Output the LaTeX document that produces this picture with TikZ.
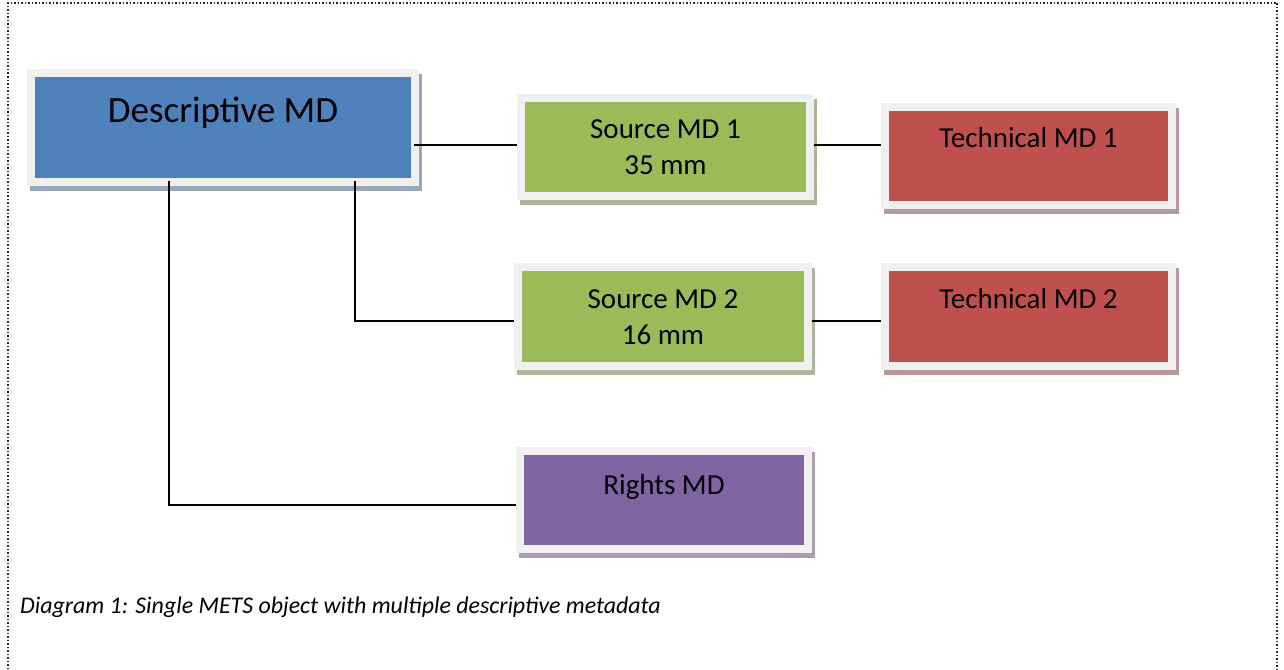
\documentclass[tikz,border=0pt]{standalone}
\usepackage{fontspec}
\setmainfont{Carlito}
\usetikzlibrary{shadows,calc}
\definecolor{mdblue}{HTML}{4F81BD}
\definecolor{mdgreen}{HTML}{9BBB59}
\definecolor{mdred}{HTML}{C0504D}
\definecolor{mdpurple}{HTML}{8064A2}
\definecolor{mdframe}{HTML}{F0F0F0}
\tikzset{
  mdbox/.style={rectangle, inner sep=0pt, fill=mdframe,
    drop shadow={shadow xshift=3pt, shadow yshift=-5pt, opacity=1, fill=#1!40!gray!70!white},
    path picture={\fill[#1] ([shift={(8pt,8pt)}]path picture bounding box.south west)
      rectangle ([shift={(-8pt,-8pt)}]path picture bounding box.north east);}},
  lbl/.style={anchor=north, inner sep=0pt, align=center, font=\fontsize{29}{36.5}\selectfont},
  biglbl/.style={anchor=north, inner sep=0pt, align=center, font=\fontsize{37}{45}\selectfont},
  conn/.style={draw=black, line width=1.8pt},
  frameline/.style={draw=black!85, line width=1.5pt, dash pattern=on 1.5pt off 2pt}
}
\begin{document}
\begin{tikzpicture}[x=1pt,y=-1pt]
\useasboundingbox (0,0) rectangle (1284,669);
\draw[frameline] (8,669) -- (8,3) -- (1277,3) -- (1277,669);

\node[mdbox=mdblue, minimum width=392pt, minimum height=117pt,
  label={[biglbl, yshift=-24pt]north:{\rule{0pt}{0.8em}Descriptive MD}}] (desc) at (223,127.5) {};
\node[mdbox=mdgreen, minimum width=297pt, minimum height=106pt,
  label={[lbl, yshift=-21pt]north:{\rule{0pt}{0.8em}Source MD 1\\35 mm}}] (src1) at (665.5,147) {};
\node[mdbox=mdred, minimum width=295pt, minimum height=106pt,
  label={[lbl, yshift=-21pt]north:{\rule{0pt}{0.8em}Technical MD 1}}] (tech1) at (1028.5,156) {};
\node[mdbox=mdgreen, minimum width=298pt, minimum height=107pt,
  label={[lbl, yshift=-22pt]north:{\rule{0pt}{0.8em}Source MD 2\\16 mm}}] (src2) at (663,316.5) {};
\node[mdbox=mdred, minimum width=295pt, minimum height=107pt,
  label={[lbl, yshift=-22pt]north:{\rule{0pt}{0.8em}Technical MD 2}}] (tech2) at (1028.5,316.5) {};
\node[mdbox=mdpurple, minimum width=296pt, minimum height=106pt,
  label={[lbl, yshift=-24pt]north:{\rule{0pt}{0.8em}Rights MD}}] (rights) at (664,500) {};

\draw[conn] ([xshift=-5pt,yshift=2pt]desc.east |- src1.west) -- ([yshift=2pt]src1.west);
\draw[conn] ([yshift=2pt]src1.east) -- ([yshift=2pt]tech1.west |- src1.east);
\draw[conn] ([xshift=132pt,yshift=5pt]desc.south) |- ([yshift=-4.5pt]src2.west);
\draw[conn] ([yshift=-4.5pt]src2.east) -- ([yshift=-4.5pt]tech2.west);
\draw[conn] ([xshift=-54pt,yshift=5pt]desc.south) |- ([yshift=-5pt]rights.west);

\node[anchor=base west, inner sep=0pt, font=\itshape\fontsize{23.9}{28}\selectfont] (caption) at (20,613)
  {Diagram 1: Single METS object with multiple descriptive metadata};
\end{tikzpicture}
\end{document}
